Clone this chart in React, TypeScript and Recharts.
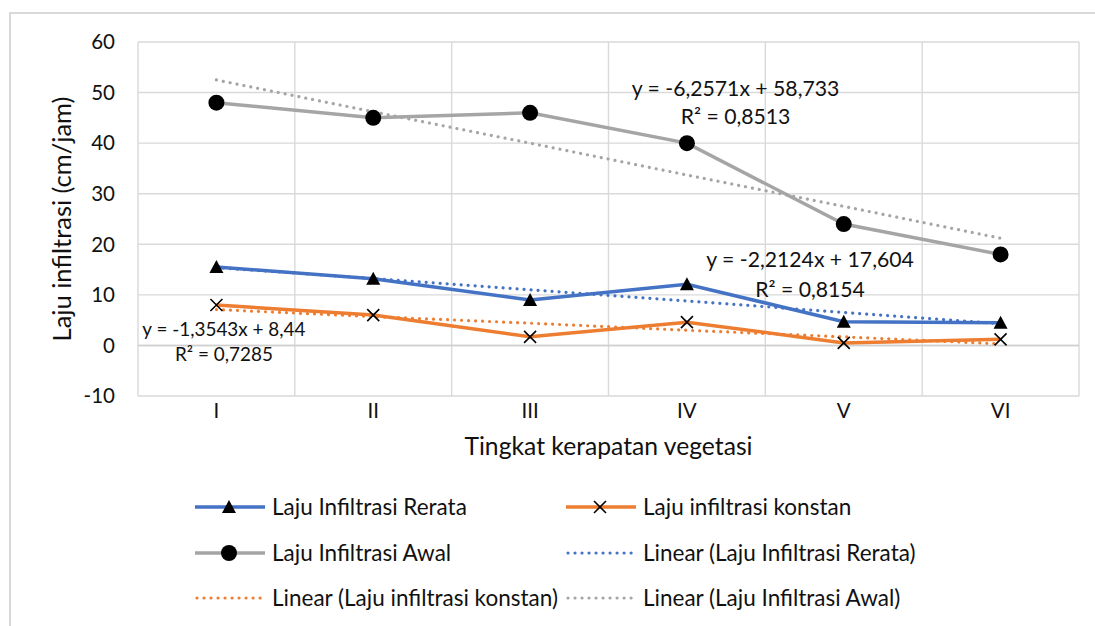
import React from "react";
import {
  LineChart,
  Line,
  XAxis,
  YAxis,
  CartesianGrid,
  ReferenceLine,
  ReferenceDot,
} from "recharts";

const categories = ["I", "II", "III", "IV", "V", "VI"];
const rerata = [15.5, 13.2, 9.0, 12.1, 4.7, 4.5];
const konstan = [8.0, 6.0, 1.7, 4.6, 0.5, 1.2];
const awal = [48, 45, 46, 40, 24, 18];
const trendRerata = [15.4, 13.2, 11.0, 8.8, 6.5, 4.3];
const trendKonstan = [7.1, 5.7, 4.4, 3.0, 1.7, 0.3];
const trendAwal = [52.5, 46.2, 40.0, 33.7, 27.5, 21.2];
const yTicks = [-10, 0, 10, 20, 30, 40, 50, 60];
const xBounds = [0.5, 1.5, 2.5, 3.5, 4.5, 5.5, 6.5];

const BLUE = "#4472C4";
const ORANGE = "#ED7D31";
const GRAY = "#A5A5A5";
const GRID = "#D9D9D9";
const TEXT = "#111";
const FONT = "Lato, 'Open Sans', sans-serif";

const data = categories.map((c, i) => ({
  x: i + 1,
  cat: c,
  rerata: rerata[i],
  konstan: konstan[i],
  awal: awal[i],
  tRerata: trendRerata[i],
  tKonstan: trendKonstan[i],
  tAwal: trendAwal[i],
}));

// trendline equation labels, anchored in data space
const equations = [
  { x: 4.31, y: 50.9, size: 21.2, text: "y = -6,2571x + 58,733" },
  { x: 4.31, y: 45.2, size: 21.2, text: "R² = 0,8513" },
  { x: 4.785, y: 16.9, size: 21.2, text: "y = -2,2124x + 17,604" },
  { x: 4.785, y: 11.15, size: 21.2, text: "R² = 0,8154" },
  { x: 1.048, y: 3.2, size: 18.9, text: "y = -1,3543x + 8,44" },
  { x: 1.048, y: -1.8, size: 18.9, text: "R² = 0,7285" },
];

const Triangle = (props: any) => {
  const { cx, cy } = props;
  if (cx == null || cy == null) return null;
  return (
    <path
      d={`M${cx},${cy - 7} L${cx + 7},${cy + 6} L${cx - 7},${cy + 6} Z`}
      fill="#000"
    />
  );
};

const Cross = (props: any) => {
  const { cx, cy } = props;
  if (cx == null || cy == null) return null;
  return (
    <path
      d={`M${cx - 6},${cy - 6} L${cx + 6},${cy + 6} M${cx - 6},${cy + 6} L${cx + 6},${cy - 6}`}
      stroke="#000"
      strokeWidth={1.6}
    />
  );
};

const Circle = (props: any) => {
  const { cx, cy } = props;
  if (cx == null || cy == null) return null;
  return <circle cx={cx} cy={cy} r={8} fill="#000" />;
};

const dotted = {
  strokeWidth: 3.2,
  strokeDasharray: "0.01 7",
  strokeLinecap: "round" as const,
};

const legendItems = [
  { label: "Laju Infiltrasi Rerata", color: BLUE, marker: "tri", dotted: false },
  { label: "Laju infiltrasi konstan", color: ORANGE, marker: "x", dotted: false },
  { label: "Laju Infiltrasi Awal", color: GRAY, marker: "circle", dotted: false },
  { label: "Linear (Laju Infiltrasi Rerata)", color: BLUE, marker: "", dotted: true },
  { label: "Linear (Laju infiltrasi konstan)", color: ORANGE, marker: "", dotted: true },
  { label: "Linear (Laju Infiltrasi Awal)", color: GRAY, marker: "", dotted: true },
];

function LegendIcon({ item }: { item: (typeof legendItems)[number] }) {
  return (
    <svg width={70} height={20} style={{ display: "block" }}>
      {item.dotted ? (
        <line x1={2} y1={10} x2={68} y2={10} stroke={item.color} {...dotted} />
      ) : (
        <line x1={0} y1={10} x2={70} y2={10} stroke={item.color} strokeWidth={3.5} />
      )}
      {item.marker === "tri" && <Triangle cx={34} cy={10} />}
      {item.marker === "x" && <Cross cx={34} cy={10} />}
      {item.marker === "circle" && <Circle cx={34} cy={10} />}
    </svg>
  );
}

export default function App() {
  return (
    <div
      style={{
        position: "fixed",
        left: 0,
        top: 0,
        width: 1095,
        height: 626,
        background: "#fff",
        fontFamily: FONT,
      }}
    >
      <div
        style={{
          position: "absolute",
          left: 9,
          top: 12,
          width: 1086,
          height: 614,
          borderLeft: "2px solid #D9D9D9",
          borderTop: "2px solid #D9D9D9",
          boxSizing: "border-box",
        }}
      />
      <div style={{ position: "absolute", left: 0, top: 0 }}>
        <LineChart
          width={1095}
          height={626}
          data={data}
          margin={{ top: 42, right: 16, bottom: 160, left: 0 }}
        >
          <CartesianGrid vertical={false} stroke={GRID} strokeWidth={1.4} />
          {xBounds.map((b) => (
            <ReferenceLine key={b} x={b} stroke={GRID} strokeWidth={1.4} />
          ))}
          <ReferenceLine y={0} stroke="#CFCFCF" strokeWidth={1.6} />
          <XAxis
            type="number"
            dataKey="x"
            domain={[0.5, 6.5]}
            ticks={[1, 2, 3, 4, 5, 6]}
            tickFormatter={(v: number) => categories[v - 1]}
            axisLine={false}
            tickLine={false}
            tickSize={0}
            tickMargin={7}
            height={70}
            tick={{ fontSize: 20.5, fill: TEXT, fontFamily: FONT }}
            label={{
              value: "Tingkat kerapatan vegetasi",
              position: "insideBottom",
              offset: 11,
              fontSize: 24.7,
              fill: TEXT,
              fontFamily: FONT,
            }}
          />
          <YAxis
            type="number"
            domain={[-10, 60]}
            ticks={yTicks}
            axisLine={false}
            tickLine={false}
            tickSize={0}
            tickMargin={23}
            width={138}
            tick={{ fontSize: 20.5, fill: TEXT, fontFamily: FONT }}
            label={{
              value: "Laju infiltrasi (cm/jam)",
              angle: -90,
              position: "insideLeft",
              offset: 62,
              fontSize: 25.5,
              fill: TEXT,
              fontFamily: FONT,
              style: { textAnchor: "middle" },
            }}
          />
          <Line
            dataKey="rerata"
            stroke={BLUE}
            strokeWidth={3.5}
            dot={<Triangle />}
            activeDot={false}
            isAnimationActive={false}
          />
          <Line
            dataKey="konstan"
            stroke={ORANGE}
            strokeWidth={3.5}
            dot={<Cross />}
            activeDot={false}
            isAnimationActive={false}
          />
          <Line
            dataKey="awal"
            stroke={GRAY}
            strokeWidth={3.5}
            dot={<Circle />}
            activeDot={false}
            isAnimationActive={false}
          />
          <Line dataKey="tRerata" stroke={BLUE} {...dotted} dot={false} activeDot={false} isAnimationActive={false} />
          <Line dataKey="tKonstan" stroke={ORANGE} {...dotted} dot={false} activeDot={false} isAnimationActive={false} />
          <Line dataKey="tAwal" stroke={GRAY} {...dotted} dot={false} activeDot={false} isAnimationActive={false} />
          {equations.map((e) => (
            <ReferenceDot
              key={e.text}
              x={e.x}
              y={e.y}
              r={0}
              fill="none"
              stroke="none"
              label={{ value: e.text, position: "center", fontSize: e.size, fill: TEXT, fontFamily: FONT }}
            />
          ))}
        </LineChart>
      </div>
      {legendItems.map((item, i) => {
        const col = i % 2;
        const row = Math.floor(i / 2);
        return (
          <div
            key={item.label}
            style={{
              position: "absolute",
              left: col === 0 ? 195 : 566,
              top: [507, 553, 598][row] - 10,
              height: 20,
              display: "flex",
              alignItems: "center",
              whiteSpace: "nowrap",
            }}
          >
            <LegendIcon item={item} />
            <span style={{ marginLeft: 7, fontSize: 22.5, color: TEXT, lineHeight: "20px" }}>
              {item.label}
            </span>
          </div>
        );
      })}
    </div>
  );
}
